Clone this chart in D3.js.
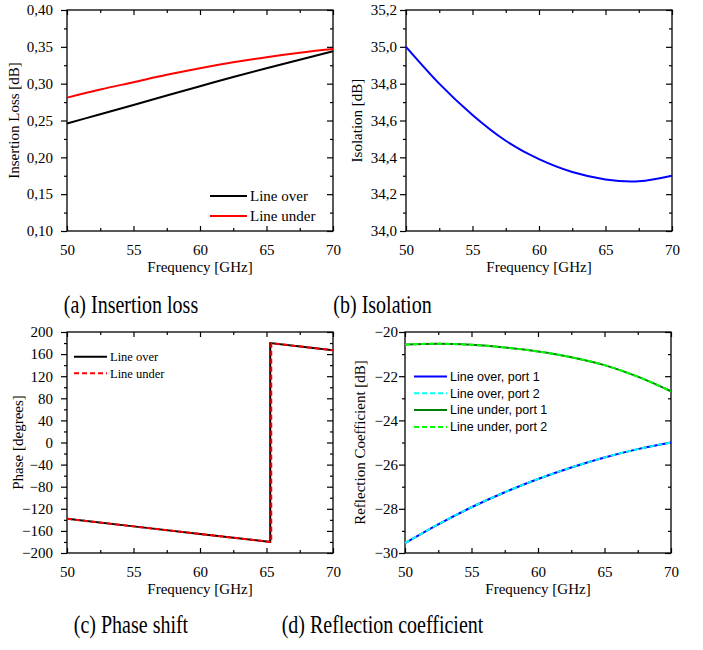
<!DOCTYPE html>
<html>
<head>
<meta charset="utf-8">
<script src="https://cdn.jsdelivr.net/npm/d3@7/dist/d3.min.js"></script>
<style>
  html, body { margin: 0; padding: 0; background: #fff; }
  svg { display: block; }
</style>
</head>
<body>
<svg id="chart" width="703" height="650"></svg>
<script>
// ---------- DATA ----------
const freq = [50, 52.5, 55, 57.5, 60, 62.5, 65, 67.5, 70];
const xTicks = [50, 55, 60, 65, 70];

// (a) Insertion loss [dB]
const ilOver  = [0.246, 0.2585, 0.271, 0.284, 0.2965, 0.309, 0.321, 0.3325, 0.344];
const ilUnder = [0.281, 0.292, 0.302, 0.312, 0.321, 0.329, 0.336, 0.342, 0.347];
const ilTicks = [0.10, 0.15, 0.20, 0.25, 0.30, 0.35, 0.40];

// (b) Isolation [dB]
const isolation = [35.00, 34.80, 34.63, 34.49, 34.39, 34.32, 34.28, 34.27, 34.30];
const isoTicks = [34.0, 34.2, 34.4, 34.6, 34.8, 35.0, 35.2];

// (c) Phase [degrees]
const phaseFreqOver  = [50, 55, 60, 65, 65.28, 65.28, 70];
const phaseOver      = [-138, -151.8, -165.5, -179.2, -180, 180, 167];
const phaseFreqUnder = [50, 55, 60, 65, 65.36, 65.36, 70];
const phaseUnder     = [-138, -151.8, -165.5, -179.2, -180.2, 179.8, 167];
const phaseTicks = [-200, -160, -120, -80, -40, 0, 40, 80, 120, 160, 200];

// (d) Reflection coefficient [dB]
const rcOverPort1  = [-29.55, -28.70, -27.93, -27.25, -26.65, -26.13, -25.68, -25.30, -25.00];
const rcOverPort2  = [-29.55, -28.70, -27.93, -27.25, -26.65, -26.13, -25.68, -25.30, -25.00];
const rcUnderPort1 = [-20.57, -20.53, -20.58, -20.70, -20.88, -21.14, -21.50, -22.02, -22.68];
const rcUnderPort2 = [-20.57, -20.53, -20.58, -20.70, -20.88, -21.14, -21.50, -22.02, -22.68];
const rcTicks = [-30, -28, -26, -24, -22, -20];

const captions = ["(a) Insertion loss", "(b) Isolation", "(c) Phase shift", "(d) Reflection coefficient"];

// ---------- DRAWING ----------
const svg = d3.select("#chart");
const SERIF = "'Liberation Serif', 'Times New Roman', serif";
const SANS = "'Liberation Sans', Arial, sans-serif";

function midpoints(arr) {
  const out = [];
  for (let i = 0; i < arr.length - 1; i++) out.push((arr[i] + arr[i + 1]) / 2);
  return out;
}

function panel(opt) {
  const { left, top, w, h, yDomain, yTickVals, yFmt, yPad, yTitle, yTitleX } = opt;
  const g = svg.append("g").attr("transform", `translate(${left},${top})`);
  const x = d3.scaleLinear().domain([50, 70]).range([0, w]);
  const y = d3.scaleLinear().domain(yDomain).range([h, 0]);
  const xMinor = midpoints(xTicks);
  const yMinor = midpoints(yTickVals);

  function style(sel) {
    sel.select(".domain").remove();
    sel.selectAll("line").attr("stroke", "#000").attr("stroke-width", 1.2);
    sel.selectAll("text").attr("font-family", SERIF).attr("font-size", 15).attr("fill", "#000");
  }

  // left axis (outward ticks)
  g.append("g").call(d3.axisLeft(y).tickValues(yTickVals).tickSize(6).tickPadding(yPad).tickFormat(yFmt)).call(style);
  g.append("g").call(d3.axisLeft(y).tickValues(yMinor).tickSize(3).tickFormat("")).call(style);
  // right axis (inward)
  g.append("g").attr("transform", `translate(${w},0)`).call(d3.axisRight(y).tickValues(yTickVals).tickSize(-6).tickFormat("")).call(style);
  g.append("g").attr("transform", `translate(${w},0)`).call(d3.axisRight(y).tickValues(yMinor).tickSize(-3).tickFormat("")).call(style);
  // bottom axis (inward)
  g.append("g").attr("transform", `translate(0,${h})`).call(d3.axisBottom(x).tickValues(xTicks).tickSize(-5).tickPadding(13).tickFormat(d3.format("d"))).call(style);
  g.append("g").attr("transform", `translate(0,${h})`).call(d3.axisBottom(x).tickValues(xMinor).tickSize(-3).tickFormat("")).call(style);
  // top axis (inward)
  g.append("g").call(d3.axisTop(x).tickValues(xTicks).tickSize(-5).tickFormat("")).call(style);
  g.append("g").call(d3.axisTop(x).tickValues(xMinor).tickSize(-3).tickFormat("")).call(style);

  // frame
  g.append("rect").attr("x", 0).attr("y", 0).attr("width", w).attr("height", h)
    .attr("fill", "none").attr("stroke", "#000").attr("stroke-width", 1.3);

  // titles
  g.append("text").attr("x", w / 2).attr("y", h + 40.5).attr("text-anchor", "middle")
    .attr("font-family", SERIF).attr("font-size", 15).text("Frequency [GHz]");
  g.append("text").attr("transform", `translate(${yTitleX - left},${h / 2}) rotate(-90)`)
    .attr("text-anchor", "middle").attr("font-family", SERIF).attr("font-size", 15).text(yTitle);

  return { g, x, y };
}

function drawLine(p, xs, ys, color, dash, curve) {
  const pts = xs.map((f, i) => [f, ys[i]]);
  const line = d3.line().x(d => p.x(d[0])).y(d => p.y(d[1])).curve(curve || d3.curveMonotoneX);
  p.g.append("path").datum(pts).attr("d", line).attr("fill", "none")
    .attr("stroke", color).attr("stroke-width", 2)
    .attr("stroke-dasharray", dash || null);
}

function legend(items, x0, x1, ys, fontFamily, fontSize) {
  items.forEach((it, i) => {
    svg.append("line").attr("x1", x0).attr("x2", x1).attr("y1", ys[i]).attr("y2", ys[i])
      .attr("stroke", it.color).attr("stroke-width", 2).attr("stroke-dasharray", it.dash || null);
    svg.append("text").attr("x", x1 + 3).attr("y", ys[i]).attr("dy", "0.35em")
      .attr("font-family", fontFamily).attr("font-size", fontSize).text(it.label);
  });
}

const commaFmt2 = d => d3.format(".2f")(d).replace(".", ",");
const commaFmt1 = d => d3.format(".1f")(d).replace(".", ",");

// (a)
const pa = panel({ left: 67, top: 10, w: 266, h: 221, yDomain: [0.10, 0.40], yTickVals: ilTicks,
  yFmt: commaFmt2, yPad: 8, yTitle: "Insertion Loss [dB]", yTitleX: 19 });
drawLine(pa, freq, ilOver, "#000");
drawLine(pa, freq, ilUnder, "#ff0000");
legend([{ label: "Line over", color: "#000" }, { label: "Line under", color: "#ff0000" }],
  210, 247, [196, 216], SERIF, 15);

// (b)
const pb = panel({ left: 406, top: 10, w: 266, h: 221, yDomain: [34.0, 35.2], yTickVals: isoTicks,
  yFmt: commaFmt1, yPad: 3, yTitle: "Isolation [dB]", yTitleX: 362 });
drawLine(pb, freq, isolation, "#0000ff", null, d3.curveNatural);

// (c)
const pc = panel({ left: 67, top: 332, w: 266, h: 221, yDomain: [-200, 200], yTickVals: phaseTicks,
  yFmt: d3.format("d"), yPad: 8, yTitle: "Phase [degrees]", yTitleX: 23 });
drawLine(pc, phaseFreqOver, phaseOver, "#000", null, d3.curveLinear);
drawLine(pc, phaseFreqUnder, phaseUnder, "#ff0000", "5,3", d3.curveLinear);
legend([{ label: "Line over", color: "#000" }, { label: "Line under", color: "#ff0000", dash: "5,3" }],
  74, 107, [356.7, 373.3], SERIF, 12.5);

// (d)
const pd = panel({ left: 405, top: 332, w: 266, h: 221, yDomain: [-30, -20], yTickVals: rcTicks,
  yFmt: d3.format("d"), yPad: 1, yTitle: "Reflection Coefficient [dB]", yTitleX: 365 });
drawLine(pd, freq, rcOverPort1, "#0000ff");
drawLine(pd, freq, rcOverPort2, "#00ffff", "5,3");
drawLine(pd, freq, rcUnderPort1, "#008000");
drawLine(pd, freq, rcUnderPort2, "#00ff00", "5,3");
legend([
  { label: "Line over, port 1", color: "#0000ff" },
  { label: "Line over, port 2", color: "#00ffff", dash: "5,3" },
  { label: "Line under, port 1", color: "#008000" },
  { label: "Line under, port 2", color: "#00ff00", dash: "5,3" }
], 414, 447, [376.5, 393.3, 410.1, 426.9], SANS, 12.5);

// captions
const capPos = [[131, 313], [382.5, 313], [131, 633], [382.5, 633]];
captions.forEach((c, i) => {
  svg.append("text").attr("transform", `translate(${capPos[i][0]},${capPos[i][1]}) scale(1,1.22)`)
    .attr("text-anchor", "middle").attr("font-family", SERIF).attr("font-size", 20).text(c);
});
</script>
</body>
</html>
